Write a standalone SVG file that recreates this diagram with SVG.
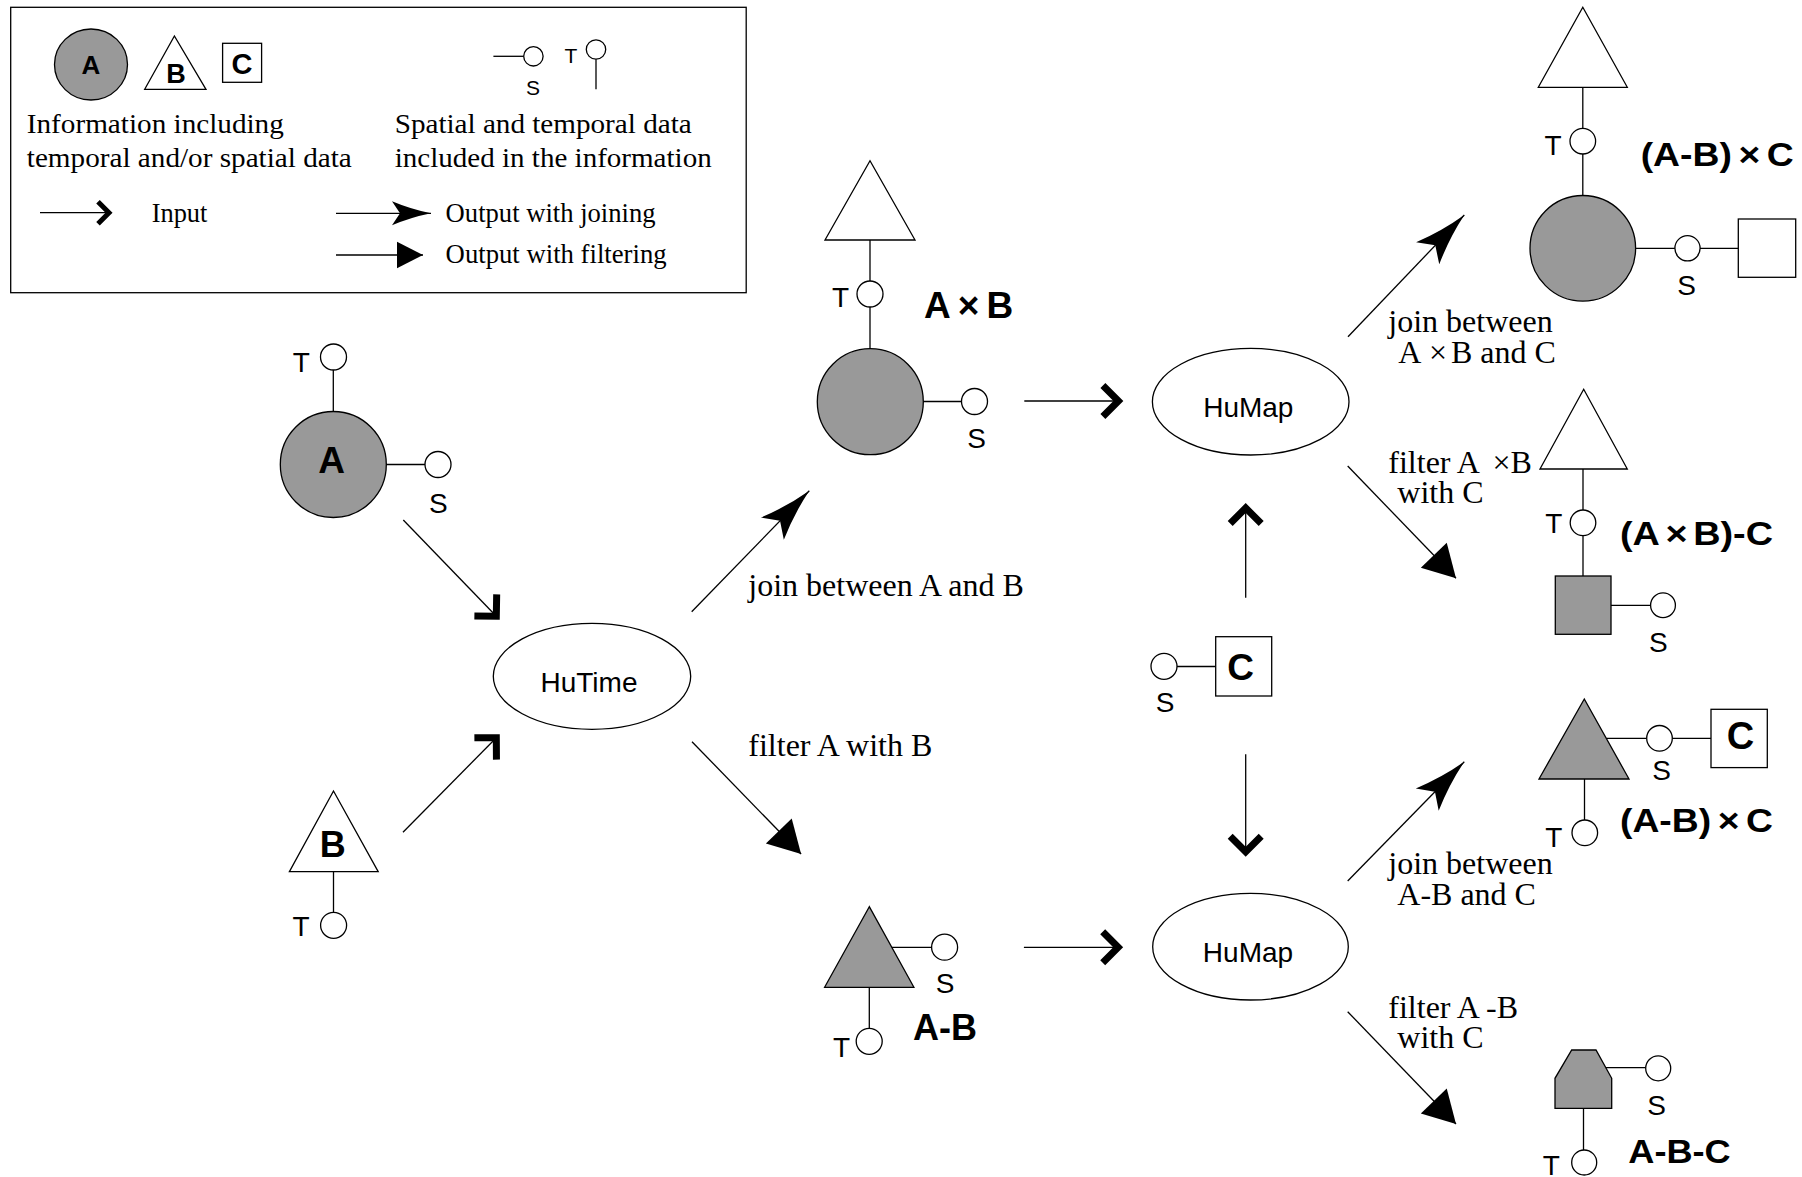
<svg xmlns="http://www.w3.org/2000/svg" width="1802" height="1177" viewBox="0 0 1802 1177">
<style>
.ln{stroke:#000;stroke-width:1.3;fill:none}
.sh{stroke:#000;stroke-width:1.3;fill:#fff}
.gr{stroke:#000;stroke-width:1.3;fill:#999}
.ts{font-family:"Liberation Sans",Arial,sans-serif;font-size:28px;text-anchor:middle;fill:#000}
.tl{font-family:"Liberation Sans",Arial,sans-serif;font-size:21px;text-anchor:middle;fill:#000}
.bd{font-family:"Liberation Sans",Arial,sans-serif;font-weight:bold;fill:#000}
.sv{font-family:"Liberation Serif","Times New Roman",serif;font-size:32px;fill:#000}
.lg{font-family:"Liberation Serif","Times New Roman",serif;font-size:28px;fill:#000}
</style>
<defs>
<marker id="mIn" markerUnits="userSpaceOnUse" viewBox="-30 -30 40 60" markerWidth="40" markerHeight="60" refX="0" refY="0" orient="auto">
<path d="M-15.5,-15.5 L0,0 L-15.5,15.5" fill="none" stroke="#000" stroke-width="7" stroke-linejoin="miter"/>
</marker>
<marker id="mJoin" markerUnits="userSpaceOnUse" viewBox="-60 -25 70 50" markerWidth="70" markerHeight="50" refX="0" refY="0" orient="auto">
<path d="M0,0 Q-27,-5 -53,-16 L-42,0 L-53,16 Q-27,5 0,0Z" fill="#000"/>
</marker>
<marker id="mFil" markerUnits="userSpaceOnUse" viewBox="-40 -25 50 50" markerWidth="50" markerHeight="50" refX="0" refY="0" orient="auto">
<path d="M0,0 L-32,-18 L-32,18Z" fill="#000"/>
</marker>
<marker id="mInS" markerUnits="userSpaceOnUse" viewBox="-20 -20 30 40" markerWidth="30" markerHeight="40" refX="0" refY="0" orient="auto">
<path d="M-11,-11 L0,0 L-11,11" fill="none" stroke="#000" stroke-width="5" stroke-linejoin="miter"/>
</marker>
<marker id="mJoinS" markerUnits="userSpaceOnUse" viewBox="-45 -20 55 40" markerWidth="55" markerHeight="40" refX="0" refY="0" orient="auto">
<path d="M0,0 Q-20,-4 -39,-12 L-31,0 L-39,12 Q-20,4 0,0Z" fill="#000"/>
</marker>
<marker id="mFilS" markerUnits="userSpaceOnUse" viewBox="-30 -20 40 40" markerWidth="40" markerHeight="40" refX="0" refY="0" orient="auto">
<path d="M0,0 L-26,-13.3 L-26,13.3Z" fill="#000"/>
</marker>
</defs>
<rect width="1802" height="1177" fill="#fff"/>

<g id="legend">
<rect x="10.7" y="7.3" width="735.5" height="285.4" class="ln"/>
<ellipse cx="91" cy="64.5" rx="36.5" ry="35.5" class="gr"/>
<text x="91" y="73.5" class="bd" font-size="26" text-anchor="middle">A</text>
<polygon points="174.4,36 144.7,89.3 206,89.3" class="sh"/>
<text x="176" y="83" class="bd" font-size="27" text-anchor="middle">B</text>
<rect x="222.6" y="43.3" width="39" height="39" class="sh"/>
<text x="242" y="74" class="bd" font-size="29" text-anchor="middle">C</text>
<line x1="493.4" y1="56.3" x2="523.7" y2="56.3" class="ln"/>
<circle cx="533.4" cy="56.3" r="9.7" class="sh"/>
<text x="533" y="95" class="tl">S</text>
<circle cx="596" cy="49.5" r="9.7" class="sh"/>
<line x1="596" y1="59.2" x2="596" y2="89.3" class="ln"/>
<text x="571" y="63" class="tl">T</text>
<text x="26.8" y="132.7" class="lg" textLength="257" lengthAdjust="spacingAndGlyphs">Information including</text>
<text x="26.8" y="166.7" class="lg" textLength="325" lengthAdjust="spacingAndGlyphs">temporal and/or spatial data</text>
<text x="394.7" y="133.3" class="lg" textLength="297" lengthAdjust="spacingAndGlyphs">Spatial and temporal data</text>
<text x="394.7" y="166.7" class="lg" textLength="317" lengthAdjust="spacingAndGlyphs">included in the information</text>
<line x1="40" y1="212.7" x2="109" y2="212.7" class="ln" marker-end="url(#mInS)"/>
<text x="151.7" y="221.7" class="lg" textLength="55.7" lengthAdjust="spacingAndGlyphs">Input</text>
<line x1="336" y1="213.3" x2="431" y2="213.3" class="ln" marker-end="url(#mJoinS)"/>
<text x="445.6" y="221.7" class="lg" textLength="210" lengthAdjust="spacingAndGlyphs">Output with joining</text>
<line x1="336" y1="255" x2="423" y2="255" class="ln" marker-end="url(#mFilS)"/>
<text x="445.6" y="263.3" class="lg" textLength="221" lengthAdjust="spacingAndGlyphs">Output with filtering</text>
</g>

<g id="connectors">
<line x1="403.3" y1="520" x2="496.3" y2="616.3" class="ln" marker-end="url(#mIn)"/>
<line x1="403" y1="832.3" x2="496.3" y2="737.7" class="ln" marker-end="url(#mIn)"/>
<line x1="691.7" y1="611.7" x2="809.3" y2="490.7" class="ln" marker-end="url(#mJoin)"/>
<line x1="692" y1="741.7" x2="801.1" y2="854" class="ln" marker-end="url(#mFil)"/>
<line x1="1024.3" y1="401" x2="1118.4" y2="401" class="ln" marker-end="url(#mIn)"/>
<line x1="1023.9" y1="947.3" x2="1118.2" y2="947.3" class="ln" marker-end="url(#mIn)"/>
<line x1="1245.7" y1="597.7" x2="1245.7" y2="508" class="ln" marker-end="url(#mIn)"/>
<line x1="1245.7" y1="754.3" x2="1245.7" y2="851.7" class="ln" marker-end="url(#mIn)"/>
<line x1="1348" y1="336.7" x2="1464.3" y2="215" class="ln" marker-end="url(#mJoin)"/>
<line x1="1347.7" y1="466" x2="1456" y2="578.3" class="ln" marker-end="url(#mFil)"/>
<line x1="1347.7" y1="881" x2="1464.3" y2="761.7" class="ln" marker-end="url(#mJoin)"/>
<line x1="1347.7" y1="1011.7" x2="1456" y2="1124" class="ln" marker-end="url(#mFil)"/>
<text x="748.3" y="596" class="sv">join between A and B</text>
<text x="748.3" y="756" class="sv">filter A with B</text>
<text x="1388.3" y="332" class="sv">join between</text>
<text class="sv" y="363"><tspan x="1398.3">A</tspan><tspan x="1429">×</tspan><tspan x="1451">B and C</tspan></text>
<text class="sv" y="472.7"><tspan x="1388.3">filter A</tspan><tspan x="1492.5">×B</tspan></text>
<text x="1397.3" y="503.3" class="sv">with C</text>
<text x="1388.3" y="874.3" class="sv">join between</text>
<text x="1397.3" y="905" class="sv">A-B and C</text>
<text x="1388.3" y="1017.7" class="sv">filter A -B</text>
<text x="1397.3" y="1047.7" class="sv">with C</text>
</g>

<g id="node-A">
<line x1="333.3" y1="370" x2="333.3" y2="411.5" class="ln"/>
<circle cx="333.5" cy="357" r="13" class="sh"/>
<line x1="386" y1="464.5" x2="425" y2="464.5" class="ln"/>
<circle cx="438" cy="464.5" r="13" class="sh"/>
<circle cx="333.3" cy="464.5" r="53" class="gr"/>
<text x="331.7" y="473.3" class="bd" font-size="37" text-anchor="middle">A</text>
<text x="301.3" y="372.3" class="ts">T</text>
<text x="438.3" y="512.7" class="ts">S</text>
</g>

<g id="node-B">
<polygon points="333.5,791 289.4,871.7 378.2,871.7" class="sh"/>
<text x="332.7" y="857.3" class="bd" font-size="36" text-anchor="middle">B</text>
<line x1="333.5" y1="871.7" x2="333.5" y2="912.3" class="ln"/>
<circle cx="333.6" cy="925.3" r="13" class="sh"/>
<text x="301" y="936" class="ts">T</text>
</g>

<g id="node-hutime">
<ellipse cx="592" cy="676.3" rx="98.7" ry="53" class="sh"/>
<text x="589" y="691.7" class="ts">HuTime</text>
</g>

<g id="node-AxB">
<polygon points="870,160.7 825,240 915,240" class="sh"/>
<line x1="870" y1="240" x2="870" y2="281" class="ln"/>
<circle cx="870" cy="294" r="13" class="sh"/>
<line x1="870" y1="307" x2="870" y2="349" class="ln"/>
<circle cx="870.3" cy="401.7" r="53" class="gr"/>
<line x1="923.3" y1="401.5" x2="961.7" y2="401.5" class="ln"/>
<circle cx="974.5" cy="401.5" r="13" class="sh"/>
<text x="840.5" y="306.7" class="ts">T</text>
<text x="976.7" y="448.3" class="ts">S</text>
<text x="924" y="318.3" class="bd" font-size="37" textLength="89.3" lengthAdjust="spacing">A×B</text>
</g>

<g id="node-AminusB">
<polygon points="869.3,906.7 824.6,987.3 913.9,987.3" class="gr"/>
<line x1="891.8" y1="947.3" x2="931.8" y2="947.3" class="ln"/>
<circle cx="944.6" cy="947.2" r="13" class="sh"/>
<line x1="869.3" y1="987.3" x2="869.3" y2="1028.3" class="ln"/>
<circle cx="869.2" cy="1041.3" r="13" class="sh"/>
<text x="945" y="993.3" class="ts">S</text>
<text x="841.6" y="1056.7" class="ts">T</text>
<text x="912.9" y="1040" class="bd" font-size="36" textLength="64" lengthAdjust="spacingAndGlyphs">A-B</text>
</g>

<g id="node-humap-1">
<ellipse cx="1250.7" cy="401.7" rx="98.3" ry="53.3" class="sh"/>
<text x="1248.3" y="416.7" class="ts">HuMap</text>
</g>

<g id="node-humap-2">
<ellipse cx="1250.5" cy="946.7" rx="97.8" ry="53.3" class="sh"/>
<text x="1248" y="961.5" class="ts">HuMap</text>
</g>

<g id="node-C">
<line x1="1177" y1="666.5" x2="1215.7" y2="666.5" class="ln"/>
<circle cx="1164" cy="666.3" r="13" class="sh"/>
<rect x="1215.7" y="636.7" width="56" height="59.3" class="sh"/>
<text x="1240.5" y="680" class="bd" font-size="37" text-anchor="middle">C</text>
<text x="1165" y="711.7" class="ts">S</text>
</g>

<g id="node-AxB-x-C">
<polygon points="1582.8,7.3 1538.3,87.3 1627.3,87.3" class="sh"/>
<line x1="1582.8" y1="87.3" x2="1582.8" y2="128.4" class="ln"/>
<circle cx="1582.8" cy="141.2" r="12.8" class="sh"/>
<line x1="1582.8" y1="154" x2="1582.8" y2="195.5" class="ln"/>
<circle cx="1582.8" cy="248.3" r="52.8" class="gr"/>
<line x1="1635.6" y1="248.3" x2="1675" y2="248.3" class="ln"/>
<circle cx="1687.5" cy="248.3" r="12.6" class="sh"/>
<line x1="1700" y1="248.3" x2="1738.3" y2="248.3" class="ln"/>
<rect x="1738.3" y="219" width="57.4" height="58.3" class="sh"/>
<text x="1553" y="155" class="ts">T</text>
<text x="1686.7" y="295" class="ts">S</text>
<text x="1640.7" y="165.5" class="bd" font-size="34" textLength="153" lengthAdjust="spacingAndGlyphs">(A-B)<tspan dx="6">×</tspan><tspan dx="6">C</tspan></text>
</g>

<g id="node-AxB-minus-C">
<polygon points="1583.7,389.3 1540,469 1627.3,469" class="sh"/>
<line x1="1583" y1="469" x2="1583" y2="510" class="ln"/>
<circle cx="1583" cy="522.8" r="12.8" class="sh"/>
<line x1="1583" y1="535.6" x2="1583" y2="576" class="ln"/>
<rect x="1555.3" y="576" width="55.7" height="58.3" class="gr"/>
<line x1="1611" y1="605.4" x2="1650.7" y2="605.4" class="ln"/>
<circle cx="1663" cy="605.3" r="12.4" class="sh"/>
<text x="1553.8" y="533.3" class="ts">T</text>
<text x="1658.3" y="651.7" class="ts">S</text>
<text x="1620" y="545" class="bd" font-size="34" textLength="153" lengthAdjust="spacingAndGlyphs">(A<tspan dx="5">×</tspan><tspan dx="5">B)-C</tspan></text>
</g>

<g id="node-AminusB-x-C">
<polygon points="1584.3,699 1539,779 1629,779" class="gr"/>
<line x1="1606.3" y1="738.3" x2="1646.7" y2="738.3" class="ln"/>
<circle cx="1659.5" cy="738.3" r="12.8" class="sh"/>
<line x1="1672.3" y1="738.3" x2="1711" y2="738.3" class="ln"/>
<rect x="1711" y="709.3" width="56.3" height="58.3" class="sh"/>
<text x="1740.5" y="749" class="bd" font-size="38" text-anchor="middle">C</text>
<line x1="1584.5" y1="779" x2="1584.5" y2="820" class="ln"/>
<circle cx="1584.8" cy="832.8" r="12.8" class="sh"/>
<text x="1661.7" y="780" class="ts">S</text>
<text x="1553.8" y="846.7" class="ts">T</text>
<text x="1620" y="831.7" class="bd" font-size="34" textLength="153" lengthAdjust="spacingAndGlyphs">(A-B)<tspan dx="6">×</tspan><tspan dx="6">C</tspan></text>
</g>

<g id="node-AminusBminusC">
<polygon points="1571.7,1050 1596,1050 1611.7,1078.3 1611.7,1108.3 1555,1108.3 1555,1078.3" class="gr"/>
<line x1="1605.8" y1="1067.7" x2="1645.7" y2="1067.7" class="ln"/>
<circle cx="1658.2" cy="1068.3" r="12.5" class="sh"/>
<line x1="1583.5" y1="1108.3" x2="1583.5" y2="1150" class="ln"/>
<circle cx="1584.2" cy="1162.5" r="12.5" class="sh"/>
<text x="1656.7" y="1115" class="ts">S</text>
<text x="1551.3" y="1175" class="ts">T</text>
<text x="1628.3" y="1163.3" class="bd" font-size="34" textLength="102.4" lengthAdjust="spacingAndGlyphs">A-B-C</text>
</g>
</svg>
